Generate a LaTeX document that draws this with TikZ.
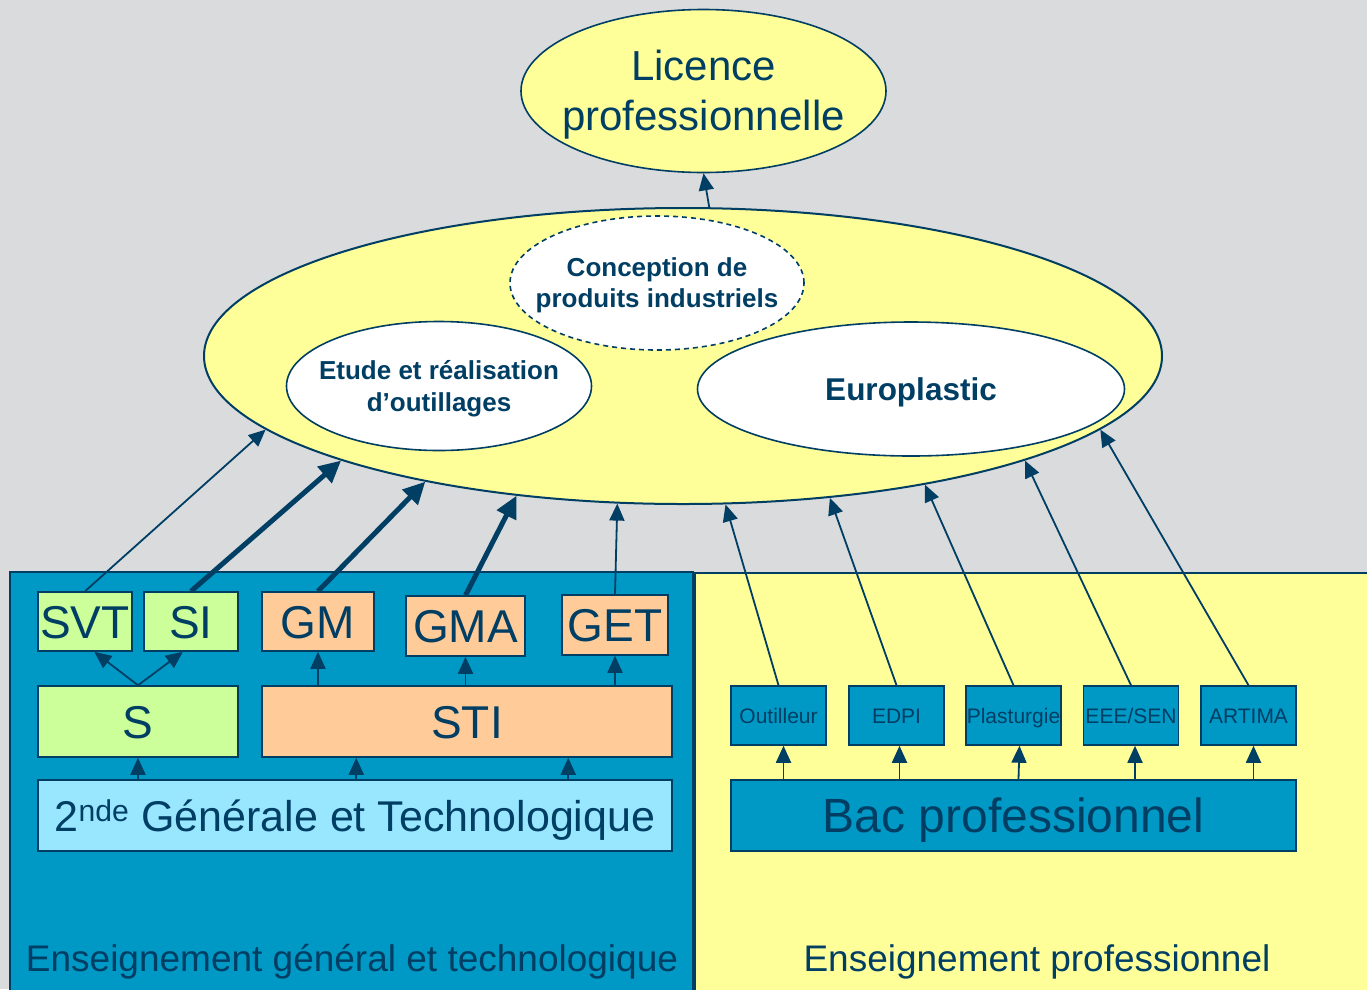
\documentclass[tikz,border=0pt]{standalone}
\usepackage{fontspec}
\setmainfont{Liberation Sans}
\usetikzlibrary{arrows.meta,shapes.geometric,calc}
\definecolor{bggray}{RGB}{217,219,221}
\definecolor{dkblue}{RGB}{0,62,100}
\definecolor{panelblue}{RGB}{0,152,196}
\definecolor{paleyellow}{RGB}{255,255,153}
\definecolor{palegreen}{RGB}{204,255,153}
\definecolor{peach}{RGB}{255,204,153}
\definecolor{palecyan}{RGB}{153,230,255}
\tikzset{
  box/.style={draw=dkblue, line width=1.5pt, inner sep=0pt, text=dkblue, align=center, text depth=0pt},
  bigtxt/.style={font=\fontsize{46}{50}\selectfont, text height=33pt},
  smalltxt/.style={font=\fontsize{21}{24}\selectfont, text height=15pt},
  thinarrow/.style={draw=dkblue, line width=1.8pt, -{Triangle[length=17pt,width=15pt]}},
  thickarrow/.style={draw=dkblue, line width=5pt, -{Triangle[length=22pt,width=21pt]}},
  oval/.style={ellipse, draw=dkblue, line width=1.6pt, inner sep=0pt},
  ovaltext/.style={text=dkblue, align=center},
  paneltext/.style={text=dkblue, font=\fontsize{37}{40}\selectfont, text height=26.6pt, text depth=0pt},
}
\begin{document}
\begin{tikzpicture}[x=1pt,y=-1pt]
\useasboundingbox (0,0) rectangle (1367,989);
\fill[bggray] (0,0) rectangle (1367,989);
% panels
\path[fill=panelblue, draw=dkblue, line width=2pt] (10,572) rectangle (693,1000);
\path[fill=paleyellow, draw=dkblue, line width=2pt] (695,573) rectangle (1380,1000);
\node[paneltext] (lgen) at (352,958) {Enseignement général et technologique};
\node[paneltext] (lpro) at (1037,958) {Enseignement professionnel};

% top ellipses
\node[oval, fill=paleyellow, minimum width=365pt, minimum height=163pt,
  label={[ovaltext, font=\fontsize{42}{50}\selectfont, yshift=-4pt]center:Licence\\professionnelle}] (lic) at (703.5,91) {};
\node[oval, fill=paleyellow, line width=2pt, minimum width=958pt, minimum height=296pt] (big) at (683,356) {};
\node[oval, fill=white, dashed, dash pattern=on 5pt off 4pt, minimum width=294pt, minimum height=134pt,
  label={[ovaltext, font=\bfseries\fontsize{26}{31}\selectfont, yshift=-2pt]center:Conception de\\produits industriels}] (cpi) at (657,283) {};
\node[oval, fill=white, minimum width=305pt, minimum height=129pt,
  label={[ovaltext, font=\bfseries\fontsize{26}{32}\selectfont, yshift=-3pt]center:Etude et réalisation\\d’outillages}] (ero) at (439,386) {};
\node[oval, fill=white, minimum width=427pt, minimum height=134pt,
  label={[ovaltext, font=\bfseries\fontsize{31.5}{34}\selectfont, text height=22.7pt, text depth=0pt]center:Europlastic}] (euro) at (911,389) {};

% left boxes
\node[box, bigtxt, fill=palegreen, minimum width=94pt, minimum height=59pt] (svt) at (85,621.5) {SVT};
\node[box, bigtxt, fill=palegreen, minimum width=94pt, minimum height=59pt] (si) at (191,621.5) {SI};
\node[box, bigtxt, fill=peach, minimum width=112pt, minimum height=59pt] (gm) at (318,621.5) {GM};
\node[box, bigtxt, fill=peach, minimum width=119pt, minimum height=60pt] (gma) at (465.5,626) {GMA};
\node[box, bigtxt, fill=peach, minimum width=106pt, minimum height=60pt] (get) at (615,625) {GET};
\node[box, bigtxt, fill=palegreen, minimum width=200pt, minimum height=71pt] (s) at (138,721.5) {S};
\node[box, bigtxt, fill=peach, minimum width=410pt, minimum height=71pt] (sti) at (467,721.5) {STI};
\node[box, fill=palecyan, minimum width=634pt, minimum height=71pt, font=\fontsize{43}{46}\selectfont, text height=31pt] (nde) at (355,815.5) {2\textsuperscript{nde} Générale et Technologique};

% right boxes
\node[box, smalltxt, fill=panelblue, minimum width=95pt, minimum height=59pt] (out) at (778.5,715.5) {Outilleur};
\node[box, smalltxt, fill=panelblue, minimum width=95pt, minimum height=59pt] (edpi) at (896.5,715.5) {EDPI};
\node[box, smalltxt, fill=panelblue, minimum width=95pt, minimum height=59pt] (pla) at (1013.5,715.5) {Plasturgie};
\node[box, smalltxt, fill=panelblue, minimum width=95pt, minimum height=59pt] (eee) at (1131,715.5) {EEE/SEN};
\node[box, smalltxt, fill=panelblue, minimum width=95pt, minimum height=59pt] (art) at (1248.5,715.5) {ARTIMA};
\node[box, fill=panelblue, minimum width=565pt, minimum height=71pt, font=\fontsize{48}{52}\selectfont, text height=34.5pt] (bac) at (1013.5,815.5) {Bac professionnel};

% arrows inside left panel
\draw[thinarrow] (s.north) -- (svt.-73);
\draw[thinarrow] (s.north) -- (si.-105);
\draw[thinarrow] (gm.south |- sti.north) -- (gm.south);
\draw[thinarrow] (gma.south |- sti.north) -- (gma.south);
\draw[thinarrow] (get.south |- sti.north) -- (get.south);
\draw[thinarrow] (s.south |- nde.north) -- (s.south);
\draw[thinarrow] ([xshift=95pt,yshift=-23pt]sti.south west) -- ([xshift=95pt]sti.south west);
\draw[thinarrow] ([xshift=307pt,yshift=-23pt]sti.south west) -- ([xshift=307pt]sti.south west);

% arrows inside right panel
\draw[thinarrow] ([xshift=5pt]out.south |- bac.north) -- ([xshift=5pt]out.south);
\draw[thinarrow] ([xshift=3pt]edpi.south |- bac.north) -- ([xshift=3pt]edpi.south);
\draw[thinarrow] ([xshift=5pt]pla.south |- bac.north) -- ([xshift=6pt]pla.south);
\draw[thinarrow] ([xshift=4pt]eee.south |- bac.north) -- ([xshift=4pt]eee.south);
\draw[thinarrow] ([xshift=5pt]art.south |- bac.north) -- ([xshift=5pt]art.south);

% arrows to big ellipse
\draw[thinarrow] (svt.north) -- (big.190.7);
\draw[thickarrow] (si.north) -- (big.197.2);
\draw[thickarrow] (gm.north) -- (big.206);
\draw[thickarrow] (gma.north) -- (big.220.3);
\draw[thinarrow] (get.north) -- (big.246.8);
\draw[thinarrow] (out.north) -- (big.286.1);
\draw[thinarrow] (edpi.north) -- (big.316.6);
\draw[thinarrow] (pla.north) -- (big.332.6);
\draw[thinarrow] (eee.north) -- (big.343);
\draw[thinarrow] (art.north) -- (big.350.9);
\draw[thinarrow] (big.80.8) -- (lic.south);
\end{tikzpicture}
\end{document}
